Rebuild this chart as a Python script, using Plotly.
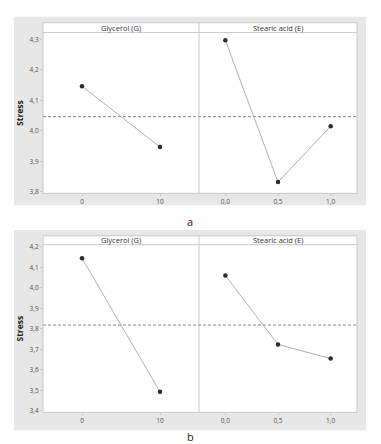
import plotly.graph_objects as go

W, H = 381, 444

glycerol_levels = ["0", "10"]
stearic_levels = ["0,0", "0,5", "1,0"]
top_glycerol = [4.146, 3.947]
top_stearic = [4.297, 3.832, 4.015]
bot_glycerol = [4.144, 3.493]
bot_stearic = [4.060, 3.724, 3.655]
top_yticks = [3.8, 3.9, 4.0, 4.1, 4.2, 4.3]
bot_yticks = [3.4, 3.5, 3.6, 3.7, 3.8, 3.9, 4.0, 4.1, 4.2]
panel_titles = ["Glycerol (G)", "Stearic acid (E)"]
y_title = "Stress"
sub_labels = ["a", "b"]


def fx(p):
    return p / W


def fy(p):
    return 1 - p / H


FONT = "Open Sans"
GRID = "#c8c8c8"
TICKC = "#505050"

XL, XM, XR = 43, 199, 357
rows = [
    dict(gray=(14, 205), strip=(20, 30), plot=(30, 193), rng=[3.795, 4.322],
         ticks=top_yticks, g=top_glycerol, e=top_stearic, lab_y=221),
    dict(gray=(230, 433), strip=(236, 245), plot=(245, 415), rng=[3.393, 4.21],
         ticks=bot_yticks, g=bot_glycerol, e=bot_stearic, lab_y=439),
]

fig = go.Figure()
shapes = []
annotations = []
layout = {}

for r, row in enumerate(rows):
    xa1 = f"x{2*r+1}"
    xa2 = f"x{2*r+2}"
    ya1 = f"y{2*r+1}"
    ya2 = f"y{2*r+2}"
    shapes.append(dict(type="rect", xref="paper", yref="paper", layer="below",
                       x0=fx(14), x1=fx(366), y0=fy(row["gray"][1]), y1=fy(row["gray"][0]),
                       fillcolor="#e7e7e7", line=dict(width=0)))
    shapes.append(dict(type="rect", xref="paper", yref="paper", layer="below",
                       x0=fx(XL), x1=fx(XR), y0=fy(row["plot"][1]), y1=fy(row["strip"][0]),
                       fillcolor="white", line=dict(color=GRID, width=1)))
    shapes.append(dict(type="line", xref="paper", yref="paper",
                       x0=fx(XL), x1=fx(XR), y0=fy(row["strip"][1]), y1=fy(row["strip"][1]),
                       line=dict(color=GRID, width=1)))
    shapes.append(dict(type="line", xref="paper", yref="paper",
                       x0=fx(XM), x1=fx(XM), y0=fy(row["plot"][1]), y1=fy(row["strip"][0]),
                       line=dict(color=GRID, width=1)))
    mean = sum(row["g"]) / len(row["g"])
    shapes.append(dict(type="line", xref="paper", yref=ya1,
                       x0=fx(XL), x1=fx(XR), y0=mean, y1=mean,
                       line=dict(color="#888888", width=1, dash="3px,2px")))
    for c, (a, b) in enumerate([(XL, XM), (XM, XR)]):
        annotations.append(dict(text=panel_titles[c], xref="paper", yref="paper",
                                x=fx((a + b) / 2), y=fy(sum(row["strip"]) / 2),
                                showarrow=False, xanchor="center", yanchor="middle",
                                font=dict(family=FONT, size=7.5, color="#333333")))
    annotations.append(dict(text=sub_labels[r], xref="paper", yref="paper",
                            x=fx(190), y=fy(row["lab_y"]), showarrow=False,
                            xanchor="center", yanchor="middle",
                            font=dict(family=FONT, size=11, color="#222222")))
    annotations.append(dict(text=f"<b>{y_title}</b>", xref="paper", yref="paper",
                            x=fx(20), y=fy(sum(row["plot"]) / 2), showarrow=False,
                            textangle=-90, xanchor="center", yanchor="middle",
                            font=dict(family=FONT, size=8.5, color="#222222")))

    ydom = [fy(row["plot"][1]), fy(row["plot"][0])]
    for c, (levels, vals, xa, ya, dom) in enumerate([
        (glycerol_levels, row["g"], xa1, ya1, [fx(XL), fx(XM)]),
        (stearic_levels, row["e"], xa2, ya2, [fx(XM), fx(XR)]),
    ]):
        idx = list(range(len(levels)))
        fig.add_trace(go.Scatter(
            x=idx, y=vals, mode="lines+markers", xaxis=xa, yaxis=ya,
            line=dict(color="#b0b0b0", width=1),
            marker=dict(color="#2a2a2a", size=4.5, symbol="circle"),
            showlegend=False, hoverinfo="skip"))
        xkey = "xaxis" + ("" if xa == "x1" else xa[1:])
        ykey = "yaxis" + ("" if ya == "y1" else ya[1:])
        layout[xkey] = dict(domain=dom, anchor=ya, range=[-0.5, len(levels) - 0.5],
                            tickvals=idx, ticktext=levels, showgrid=False, zeroline=False,
                            showline=False, ticks="outside", ticklen=2, tickcolor=GRID,
                            tickfont=dict(family=FONT, size=6.5, color=TICKC))
        yd = dict(domain=ydom, anchor=xa, range=row["rng"], showgrid=False, zeroline=False,
                  showline=False, fixedrange=True)
        if c == 0:
            yd.update(tickvals=row["ticks"], tickformat=".1f", ticks="outside", ticklen=2,
                      tickcolor=GRID, tickfont=dict(family=FONT, size=6.5, color=TICKC))
        else:
            yd.update(showticklabels=False, matches=ya1)
        layout[ykey] = yd

fig.update_layout(
    width=W, height=H, margin=dict(l=0, r=0, t=0, b=0),
    paper_bgcolor="white", plot_bgcolor="rgba(0,0,0,0)",
    separators=",.", shapes=shapes, annotations=annotations, **layout)

fig.write_html("out.html", config={"displayModeBar": False},
               post_script="document.body.style.margin='0';")
